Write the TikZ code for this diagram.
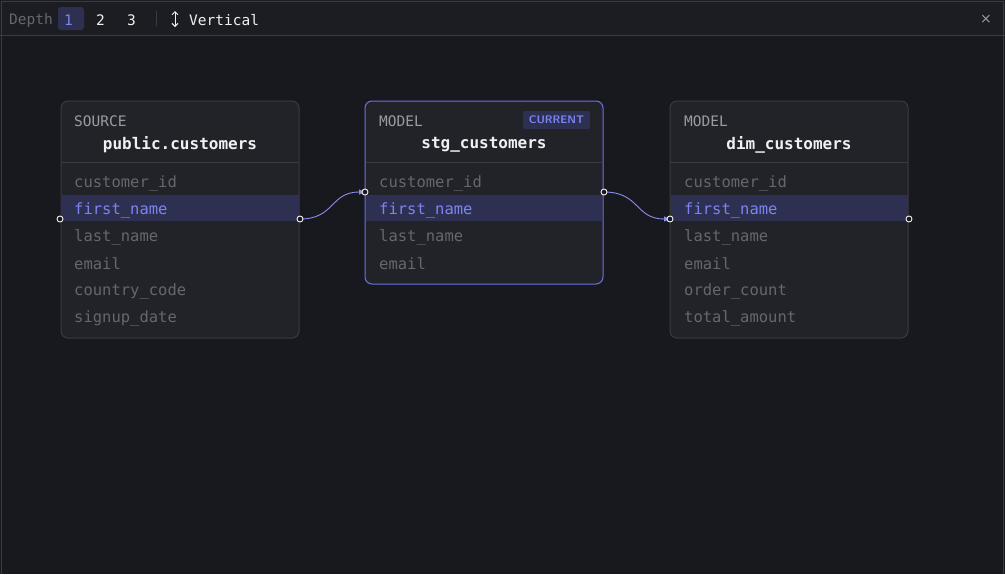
\documentclass[tikz,border=0pt]{standalone}
\usepackage{fontspec}
\setmonofont{DejaVu Sans Mono}
\setmainfont{DejaVu Sans}
\usetikzlibrary{arrows.meta}
\definecolor{bg}{HTML}{18191E}
\definecolor{bar}{HTML}{1C1D22}
\definecolor{nodebg}{HTML}{222328}
\definecolor{edge}{HTML}{3A3B41}
\definecolor{hl}{HTML}{2D3050}
\definecolor{blue}{HTML}{7C84F2}
\definecolor{cur}{HTML}{6B72E6}
\definecolor{dim}{HTML}{65676D}
\definecolor{kind}{HTML}{9A9CA2}
\definecolor{ttl}{HTML}{F0F0F2}
\tikzset{
 box/.style={draw=edge, fill=nodebg, rounded corners=7pt, line width=1pt},
 fld/.style={anchor=west, text=dim, font=\ttfamily\fontsize{15.5}{15.5}\selectfont, inner sep=0},
 sel/.style={anchor=west, text=blue, font=\ttfamily\fontsize{15.5}{15.5}\selectfont, inner sep=0},
 kindt/.style={anchor=west, text=kind, font=\ttfamily\fontsize{14.5}{14.5}\selectfont, inner sep=0},
 title/.style={text=ttl, font=\ttfamily\bfseries\fontsize{16}{16}\selectfont, inner sep=0},
 handle/.style={circle, draw=ttl, fill=bg, line width=0.9pt, minimum size=6pt, inner sep=0},
 link/.style={draw=cur!80, line width=0.9pt, -{Triangle[length=6pt,width=5pt]}},
 bartxt/.style={anchor=west, font=\ttfamily\fontsize{14.5}{14.5}\selectfont, inner sep=0}
}
\begin{document}
\begin{tikzpicture}[x=1pt,y=-1pt]
\useasboundingbox (0,0) rectangle (1005,574);
\fill[bg] (0,0) rectangle (1005,574);
\fill[bar] (0,0) rectangle (1005,35);
\draw[edge] (0,35.5) -- (1005,35.5);
\draw[edge] (1.5,574) -- (1.5,1.5) -- (1003.5,1.5) -- (1003.5,574);
\node[bartxt,text=dim] (depth) at (9,20) {Depth};
\fill[hl,rounded corners=3pt] (58,7) rectangle (84,30);
\node[bartxt,text=blue] (d1) at (64,20) {1};
\node[bartxt,text=ttl] (d2) at (96,20) {2};
\node[bartxt,text=ttl] (d3) at (127,20) {3};
\draw[edge] (156,11) -- (156,26);
\node[inner sep=0] (arr) at (175,19) {\tikz[x=1pt,y=1pt]{\draw[ttl,line width=1pt,{Straight Barb[length=3pt]}-{Straight Barb[length=3pt]}] (0,-8)--(0,8);}};
\node[bartxt,text=ttl] (vert) at (189,20) {Vertical};
\node[inner sep=0,text=kind,font=\fontsize{14}{14}\selectfont] (close) at (986,19) {×};

\draw[box] (61,101) rectangle (299,338);
\draw[edge] (61,162) -- (299,162);
\fill[hl] (61.5,195) rectangle (298.5,221);
\node[kindt] (k1) at (74,121) {SOURCE};
\node[title] (t1) at (180,145) {public.customers};
\node[fld] (a1) at (74,183) {customer\_id};
\node[sel] (a2) at (74,210) {first\_name};
\node[fld] (a3) at (74,237) {last\_name};
\node[fld] (a4) at (74,264) {email};
\node[fld] (a5) at (74,291) {country\_code};
\node[fld] (a6) at (74,318) {signup\_date};

\draw[box,draw=cur] (365,101) rectangle (603,284);
\draw[edge] (365.5,162) -- (602.5,162);
\fill[hl] (366,195) rectangle (602,221);
\node[kindt] (k2) at (379,121) {MODEL};
\fill[hl,rounded corners=2pt] (523,111) rectangle (590,129);
\node[inner sep=0,text=blue,font=\sffamily\bfseries\fontsize{11}{11}\selectfont] (curr) at (556.5,120) {CURRENT};
\node[title] (t2) at (484,145) {stg\_customers};
\node[fld] (b1) at (379,183) {customer\_id};
\node[sel] (b2) at (379,210) {first\_name};
\node[fld] (b3) at (379,237) {last\_name};
\node[fld] (b4) at (379,264) {email};

\draw[box] (670,101) rectangle (908,338);
\draw[edge] (670,162) -- (908,162);
\fill[hl] (670.5,195) rectangle (907.5,221);
\node[kindt] (k3) at (684,121) {MODEL};
\node[title] (t3) at (789,145) {dim\_customers};
\node[fld] (c1) at (684,183) {customer\_id};
\node[sel] (c2) at (684,210) {first\_name};
\node[fld] (c3) at (684,237) {last\_name};
\node[fld] (c4) at (684,264) {email};
\node[fld] (c5) at (684,291) {order\_count};
\node[fld] (c6) at (684,318) {total\_amount};

\coordinate (o1) at (300,219);
\coordinate (i2) at (365,192);
\coordinate (o2) at (604,192);
\coordinate (i3) at (670,219);
\draw[link] (o1) .. controls (335,219) and (330,192) .. (i2);
\draw[link] (o2) .. controls (640,192) and (635,219) .. (i3);
\node[handle] (h0) at (60,219) {};
\node[handle] (h1) at (o1) {};
\node[handle] (h2) at (i2) {};
\node[handle] (h3) at (o2) {};
\node[handle] (h4) at (i3) {};
\node[handle] (h5) at (909,219) {};
\end{tikzpicture}
\end{document}
